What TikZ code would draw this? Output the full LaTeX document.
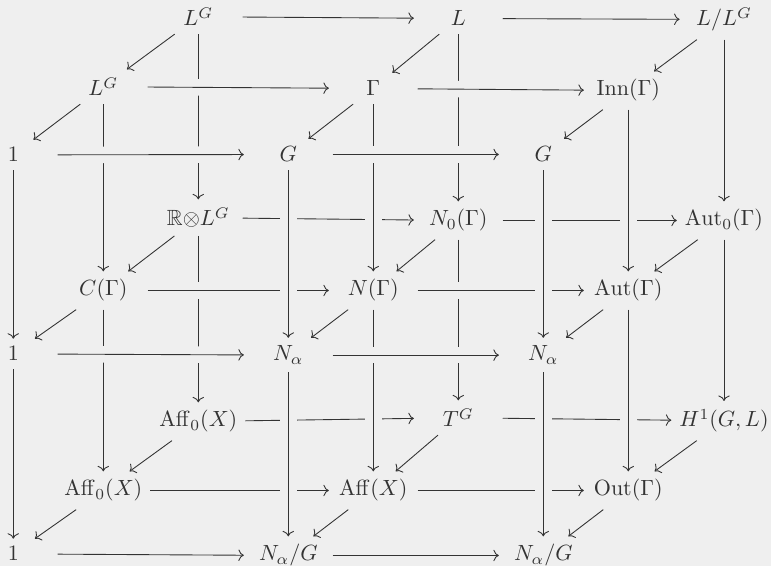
\documentclass[tikz,border=0pt]{standalone}
\usepackage{amsmath,amssymb}
\usetikzlibrary{arrows.meta}
\definecolor{bg}{HTML}{EFEFEF}
\definecolor{fg}{HTML}{333333}
\begin{document}
\begin{tikzpicture}[x=0.4545pt,y=-0.4545pt,
  obj/.style={anchor=base, inner xsep=3.5pt, inner ysep=3.5pt, minimum width=40pt, text=fg},
  arr/.style={draw=fg, line width=0.4pt, -{To}},
  over/.style={preaction={draw=bg, -, line width=7.5pt}}]
\fill[bg] (0,0) rectangle (771,566);
\useasboundingbox (0,0) rectangle (771,566);
% back layer
\node[obj] (b11) at (198.3,26) {$L^G$};
\node[obj] (b12) at (458.3,26) {$L$};
\node[obj] (b13) at (724,26) {$L/L^G$};
\node[obj] (b21) at (198.3,226) {$\mathbb{R}{\otimes}L^G$};
\node[obj] (b22) at (458.3,226) {$N_0(\Gamma)$};
\node[obj] (b23) at (724,226) {$\mathrm{Aut}_0(\Gamma)$};
\node[obj] (b31) at (198.3,427) {$\mathrm{Aff}_0(X)$};
\node[obj] (b32) at (458.3,427) {$T^G$};
\node[obj] (b33) at (724,427) {$H^1(G,L)$};
% middle layer
\node[obj] (m11) at (103.3,96) {$L^G$};
\node[obj] (m12) at (373.3,96) {$\Gamma$};
\node[obj] (m13) at (628.3,96) {$\mathrm{Inn}(\Gamma)$};
\node[obj] (m21) at (103.3,296) {$C(\Gamma)$};
\node[obj] (m22) at (373.3,296) {$N(\Gamma)$};
\node[obj] (m23) at (628.3,296) {$\mathrm{Aut}(\Gamma)$};
\node[obj] (m31) at (103.3,496) {$\mathrm{Aff}_0(X)$};
\node[obj] (m32) at (373.3,496) {$\mathrm{Aff}(X)$};
\node[obj] (m33) at (628.3,496) {$\mathrm{Out}(\Gamma)$};
% front layer
\node[obj] (f11) at (13.3,162) {$1$};
\node[obj] (f12) at (288.3,162) {$G$};
\node[obj] (f13) at (543.3,162) {$G$};
\node[obj] (f21) at (13.3,361) {$1$};
\node[obj] (f22) at (288.3,361) {$N_\alpha$};
\node[obj] (f23) at (543.3,361) {$N_\alpha$};
\node[obj] (f31) at (13.3,561) {$1$};
\node[obj] (f32) at (288.3,561) {$N_\alpha/G$};
\node[obj] (f33) at (543.3,561) {$N_\alpha/G$};
% back arrows
\foreach \a/\b in {b11/b12,b12/b13,b21/b22,b22/b23,b31/b32,b32/b33,
                   b11/b21,b21/b31,b12/b22,b22/b32,b13/b23,b23/b33}
  \draw[arr] (\a) -- (\b);
% middle arrows
\foreach \a/\b in {m11/m12,m12/m13,m21/m22,m22/m23,m31/m32,m32/m33,
                   m11/m21,m21/m31,m12/m22,m22/m32,m13/m23,m23/m33}
  \draw[arr,over] (\a) -- (\b);
% front arrows
\foreach \a/\b in {f11/f12,f12/f13,f21/f22,f22/f23,f31/f32,f32/f33,
                   f11/f21,f21/f31,f12/f22,f22/f32,f13/f23,f23/f33}
  \draw[arr,over] (\a) -- (\b);
% diagonal arrows
\foreach \i in {11,12,13,21,22,23,31,32,33}{
  \draw[arr] (b\i) -- (m\i);
  \draw[arr] (m\i) -- (f\i);
}
\end{tikzpicture}
\end{document}
